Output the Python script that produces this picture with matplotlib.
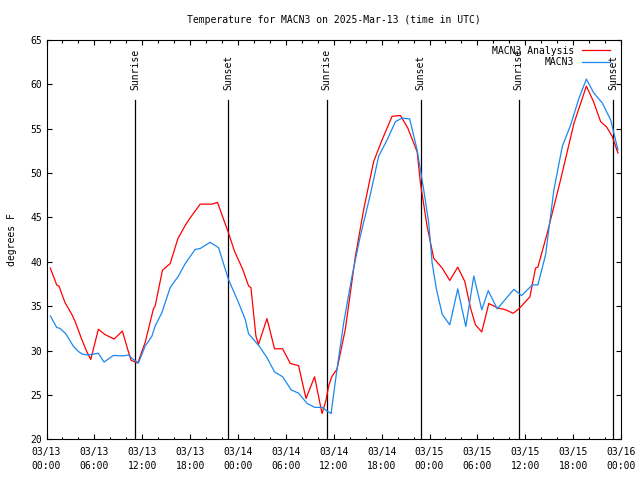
import matplotlib
matplotlib.use("Agg")
import matplotlib.pyplot as plt
import matplotlib.dates as mdates
from matplotlib.ticker import MultipleLocator
from datetime import datetime, timedelta

# ---- data (hours after 2025-03-13 00:00 UTC, degrees F) ----
analysis_hours = [0.48, 1.28, 1.57, 2.32, 3.16, 3.58, 4.42, 5.04, 5.55, 6.50, 7.34, 8.47,
                  9.51, 10.19, 10.60, 11.44, 12.36, 13.40, 13.61, 14.53, 15.50, 16.46, 17.38,
                  17.88, 19.26, 20.73, 21.43, 22.81, 23.56, 24.57, 25.32, 25.62, 26.25, 26.57,
                  27.63, 28.58, 29.59, 30.55, 31.59, 32.52, 33.60, 34.53, 35.03, 35.36, 35.78,
                  36.41, 37.45, 38.71, 39.75, 41.00, 42.06, 43.31, 44.35, 45.27, 46.45, 46.86,
                  47.70, 48.53, 49.59, 50.54, 51.54, 52.42, 53.14, 53.76, 54.55, 55.43, 56.56,
                  57.53, 58.49, 59.20, 60.58, 61.29, 61.58, 62.76, 64.43, 66.10, 67.66, 68.53,
                  69.45, 70.20, 70.92, 71.62]
analysis_temp = [39.3, 37.4, 37.25, 35.4, 34.1, 33.3, 31.25, 29.9, 29.0, 32.4, 31.8, 31.3,
                 32.2, 30.1, 28.9, 28.6, 30.9, 34.7, 35.0, 39.05, 39.8, 42.6, 44.1,
                 44.8, 46.5, 46.5, 46.7, 43.25, 41.2, 39.2, 37.3, 37.1, 31.6, 30.7,
                 33.6, 30.2, 30.2, 28.55, 28.3, 24.6, 27.05, 22.9, 24.4, 26.0, 27.1,
                 27.9, 32.4, 40.6, 45.9, 51.3, 53.75, 56.4, 56.5, 55.1, 52.4, 48.9,
                 44.0, 40.4, 39.3, 37.9, 39.4, 37.8, 34.8, 32.9, 32.1, 35.3, 34.8,
                 34.6, 34.2, 34.7, 36.05, 39.3, 39.4, 43.25, 49.25, 55.6, 59.8, 58.1,
                 55.8, 55.2, 54.1, 52.25]

station_hours = [0.48, 1.28, 1.69, 2.41, 3.36, 3.99, 4.49, 5.17, 6.50, 7.21, 8.38, 9.64,
                 10.26, 10.89, 11.52, 12.36, 13.20, 13.61, 14.45, 15.50, 16.54, 17.38, 18.63,
                 19.26, 20.51, 21.56, 22.81, 24.07, 24.91, 25.32, 26.66, 27.63, 28.58, 29.59,
                 30.68, 31.59, 32.65, 33.60, 34.53, 35.16, 35.66, 36.41, 37.24, 38.29, 39.33,
                 40.59, 41.63, 42.69, 43.73, 44.57, 45.52, 46.45, 47.28, 47.90, 48.33, 48.87,
                 49.59, 50.54, 51.54, 52.55, 53.55, 54.55, 55.36, 56.49, 58.57, 59.54, 60.88,
                 61.58, 62.55, 63.59, 64.64, 65.68, 66.72, 67.66, 68.61, 69.66, 70.70, 71.62]
station_temp = [33.9, 32.6, 32.5, 31.9, 30.5, 29.9, 29.6, 29.5, 29.7, 28.7, 29.45, 29.4,
                29.5, 29.0, 28.6, 30.5, 31.6, 32.75, 34.25, 37.1, 38.4, 39.8, 41.4,
                41.5, 42.2, 41.6, 38.0, 35.4, 33.5, 31.9, 30.5, 29.2, 27.6, 27.05,
                25.55, 25.2, 24.05, 23.6, 23.6, 23.2, 22.9, 27.9, 33.1, 38.4, 42.9,
                47.6, 51.9, 53.75, 55.8, 56.2, 56.1, 52.6, 48.1, 44.4, 39.9, 36.9,
                34.1, 32.9, 36.95, 32.7, 38.4, 34.6, 36.75, 34.7, 36.9, 36.2, 37.4,
                37.4, 40.8, 48.1, 53.0, 55.4, 58.4, 60.6, 59.0, 57.9, 56.0, 52.6]

event_hours = [11.1, 22.8, 35.1, 46.9, 59.2, 71.0]
event_labels = ["Sunrise", "Sunset", "Sunrise", "Sunset", "Sunrise", "Sunset"]

series_labels = ["MACN3 Analysis", "MACN3"]
title = "Temperature for MACN3 on 2025-Mar-13 (time in UTC)"
ylabel = "degrees F"

start = datetime(2025, 3, 13, 0, 0)
end = datetime(2025, 3, 16, 0, 0)

def to_dt(hours):
    return [start + timedelta(hours=h) for h in hours]

plt.rcParams['font.family'] = ['DejaVu Sans Mono']
FS = 7

fig = plt.figure(figsize=(6.4, 4.8), dpi=100)
ax = fig.add_axes([46.5 / 640, 1 - 439.3 / 480, (621 - 46.5) / 640, (439.3 - 40) / 480])

for h, lab in zip(event_hours, event_labels):
    t = start + timedelta(hours=h)
    ax.axvline(t, ymin=0, ymax=0.85, color='black', lw=0.9)
    ax.text(t, 0.875, lab, transform=ax.get_xaxis_transform(), rotation=90,
            ha='center', va='bottom', fontsize=FS)

ax.plot(to_dt(analysis_hours), analysis_temp, color='#ff0000', lw=0.9, label=series_labels[0])
ax.plot(to_dt(station_hours), station_temp, color='#1a88f0', lw=0.9, label=series_labels[1])

ax.set_xlim(start, end)
ax.set_ylim(20, 65)
ax.yaxis.set_major_locator(MultipleLocator(5))
ax.xaxis.set_major_locator(mdates.HourLocator(byhour=[0, 6, 12, 18]))
ax.xaxis.set_minor_locator(mdates.HourLocator(byhour=range(0, 24, 2)))
ax.xaxis.set_major_formatter(mdates.DateFormatter('%m/%d\n%H:%M'))

ax.tick_params(axis='both', which='both', direction='in', top=True, right=True,
               labelsize=FS, width=0.8, color='black')
ax.tick_params(axis='both', which='major', length=3.6)
ax.tick_params(axis='x', which='minor', length=1.8)
ax.tick_params(axis='x', which='major', pad=5.5)
ax.tick_params(axis='y', which='major', pad=3)
for lbl in ax.get_xticklabels():
    lbl.set_linespacing(1.45)
for sp in ax.spines.values():
    sp.set_linewidth(0.8)

ax.set_title(title, fontsize=FS, pad=12)
ax.set_ylabel(ylabel, fontsize=FS, labelpad=10)

leg = ax.legend(loc='upper right', frameon=False, markerfirst=False, fontsize=FS,
                handlelength=2.9, handletextpad=0.8, labelspacing=0.15,
                borderaxespad=0.3, borderpad=0.5,
                bbox_to_anchor=(1 - 3 / 574.5, 1 + 2 / 399.3))

fig.savefig('out.png', dpi=100)
